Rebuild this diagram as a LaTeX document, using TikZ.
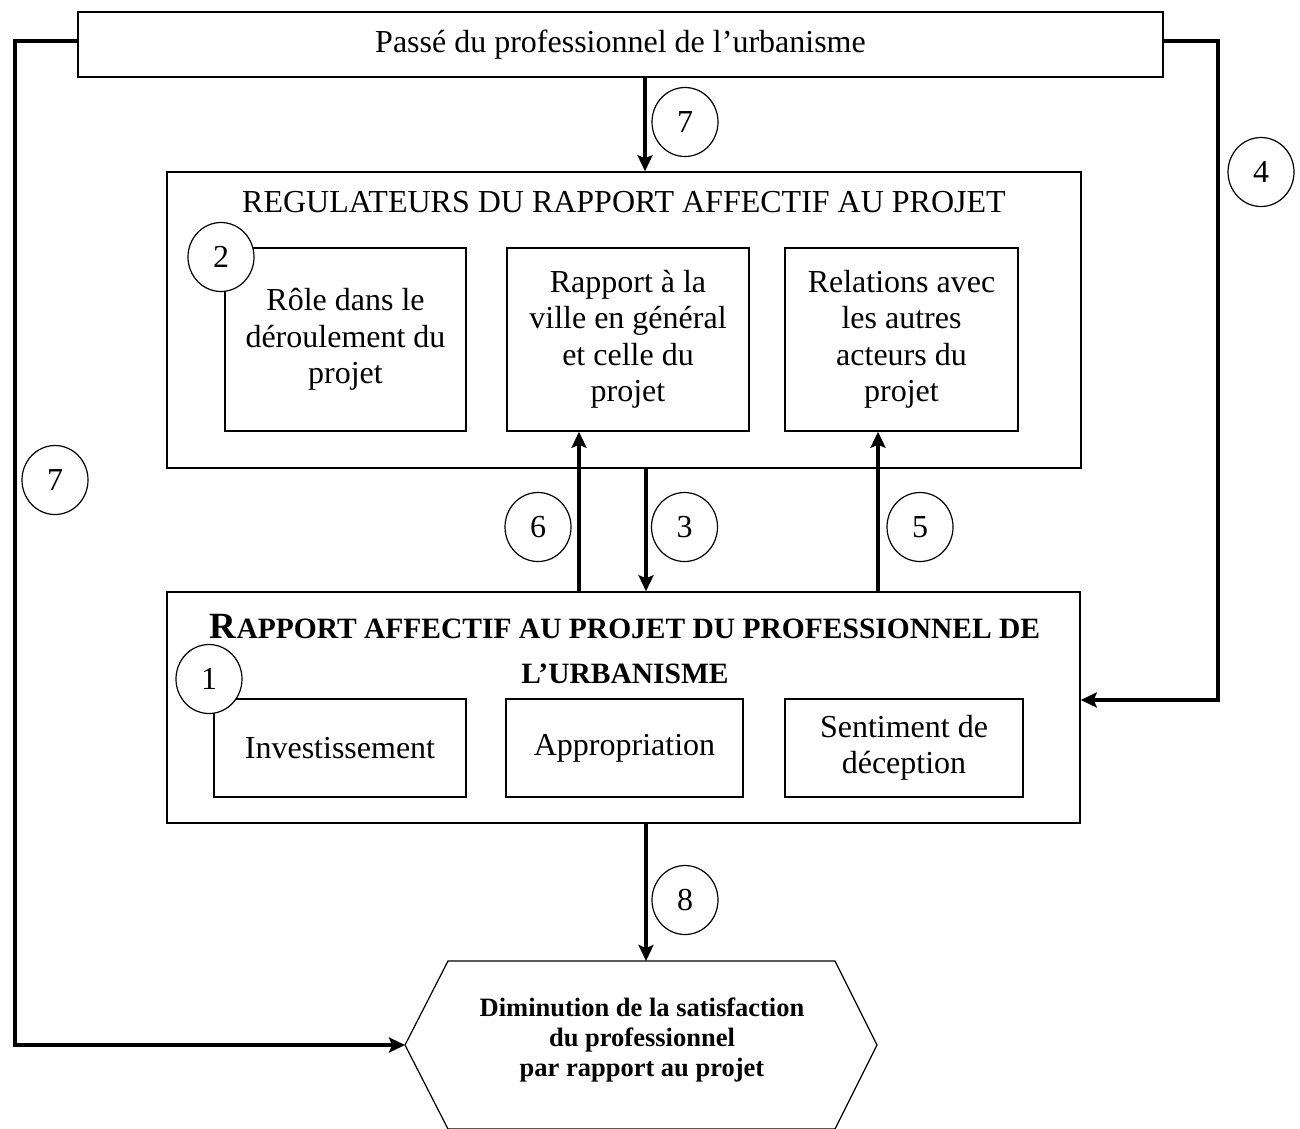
\documentclass[tikz,border=0pt]{standalone}
\usepackage{fontspec}
\setmainfont{Liberation Serif}
\usetikzlibrary{arrows.meta,shapes.geometric}
\begin{document}
\begin{tikzpicture}[x=1pt,y=-1pt,
  box/.style={draw,line width=1.5pt,inner sep=0pt,align=center,font=\fontsize{32}{36.5}\selectfont},
  num/.style={draw,ellipse,fill=white,line width=1.2pt,minimum width=66pt,minimum height=69pt,inner sep=0pt,font=\fontsize{32}{36}\selectfont},
  arr/.style={line width=3.5pt,-{Stealth[length=16pt,width=15pt,inset=3pt]}}]
\useasboundingbox (0,0) rectangle (1300,1128);
\clip (0,0) rectangle (1300,1128);
% boxes
\node[box,minimum width=1085pt,minimum height=65pt] (top) at (620.5,44.5) {Passé du professionnel de l’urbanisme};
\node[box,minimum width=914pt,minimum height=296pt] (reg) at (624,320) {};
\node[font=\fontsize{32}{36}\selectfont] (regt) at (624,202) {REGULATEURS DU RAPPORT AFFECTIF AU PROJET};
\node[box,minimum width=241pt,minimum height=183pt] (r1) at (345.5,339.5) {Rôle dans le\\déroulement du\\projet};
\node[box,minimum width=242pt,minimum height=183pt] (r2) at (628,339.5) {Rapport à la\\ville en général\\et celle du\\projet};
\node[box,minimum width=233pt,minimum height=183pt] (r3) at (901.5,339.5) {Relations avec\\les autres\\acteurs du\\projet};
\node[box,minimum width=913pt,minimum height=231pt] (rap) at (623.5,707.5) {};
\node[align=center,font=\fontsize{29.5}{45}\selectfont\bfseries] (rapt) at (625,649) {{\fontsize{37}{45}\selectfont R}APPORT AFFECTIF AU PROJET DU PROFESSIONNEL DE\\L’URBANISME};
\node[box,minimum width=252pt,minimum height=98pt] (a1) at (340,748) {Investissement};
\node[box,minimum width=237pt,minimum height=98pt] (a2) at (624.5,748) {Appropriation};
\node[box,minimum width=238pt,minimum height=98pt] (a3) at (904,748) {Sentiment de\\déception};
% hexagon
\coordinate (hexTL) at (448,961);
\coordinate (hexTR) at (835,961);
\coordinate (hexR) at (877,1045);
\coordinate (hexBR) at (835,1129);
\coordinate (hexBL) at (448,1129);
\coordinate (hexL) at (405,1045);
\draw[line width=1.2pt] (hexTL) -- (hexTR) -- (hexR) -- (hexBR) -- (hexBL) -- (hexL) -- cycle;
\node[align=center,font=\fontsize{26.5}{30}\selectfont\bfseries] (hex) at (642,1040) {Diminution de la satisfaction\\du professionnel\\par rapport au projet};
% lanes
\coordinate (x6) at (579,0);
\coordinate (x3) at (646,0);
\coordinate (x5) at (878,0);
\coordinate (x7) at (645,0);
\coordinate (yL) at (0,41);
\coordinate (xL) at (15,0);
\coordinate (xR) at (1218,0);
\coordinate (y4) at (0,700);
% arrows
\draw[arr] (x7 |- top.south) -- (x7 |- reg.north);
\draw[arr] (x6 |- rap.north) -- (x6 |- r2.south);
\draw[arr] (x3 |- reg.south) -- (x3 |- rap.north);
\draw[arr] (x5 |- rap.north) -- (x5 |- r3.south);
\draw[arr] (x3 |- rap.south) -- (x3 |- hexTL);
\draw[arr] (top.west |- yL) -- (xL |- yL) -- (xL |- hexL) -- (hexL);
\draw[arr] (top.east |- yL) -- (xR |- yL) -- (xR |- y4) -- (rap.east |- y4);
% numbers
\node[num] (n7a) at (685,122) {7};
\node[num] (n4) at (1261,172) {4};
\node[num] (n2) at (221,257) {2};
\node[num] (n7b) at (55,480) {7};
\node[num] (n6) at (538,527) {6};
\node[num] (n3) at (684.5,527) {3};
\node[num] (n5) at (920,527) {5};
\node[num] (n1) at (209,679) {1};
\node[num] (n8) at (685,900) {8};
\end{tikzpicture}
\end{document}
